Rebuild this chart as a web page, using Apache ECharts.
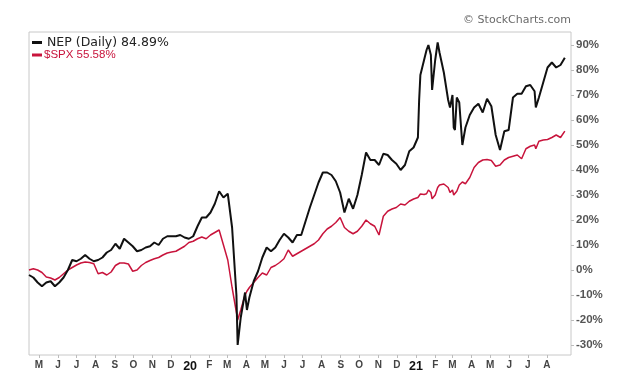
<!DOCTYPE html>
<html><head><meta charset="utf-8">
<script src="https://cdn.jsdelivr.net/npm/echarts@6/dist/echarts.min.js"></script>
<style>html,body{margin:0;padding:0;background:#fff}#c{width:625px;height:390px}</style>
</head><body><div id="c"></div>
<script>
// Dates of the sampled points (weekly, plus a few extra days at sharp turns)
const dates = [
'2019-04-15','2019-04-22','2019-04-29','2019-05-06','2019-05-13','2019-05-20','2019-05-27','2019-06-03','2019-06-10','2019-06-17','2019-06-24',
'2019-07-01','2019-07-08','2019-07-15','2019-07-22','2019-07-29','2019-08-05','2019-08-12','2019-08-19','2019-08-26','2019-09-02','2019-09-09',
'2019-09-16','2019-09-23','2019-09-30','2019-10-07','2019-10-14','2019-10-21','2019-10-28','2019-11-04','2019-11-11','2019-11-18','2019-11-25',
'2019-12-02','2019-12-09','2019-12-16','2019-12-23','2019-12-30',
'2020-01-06','2020-01-13','2020-01-20','2020-01-27','2020-02-03','2020-02-10','2020-02-17','2020-02-24','2020-03-02','2020-03-09','2020-03-16',
'2020-03-18','2020-03-23','2020-03-30','2020-04-02','2020-04-06','2020-04-13','2020-04-20','2020-04-27','2020-05-04','2020-05-11','2020-05-18',
'2020-05-25','2020-06-01','2020-06-08','2020-06-15','2020-06-22','2020-06-29','2020-07-06','2020-07-13','2020-07-20','2020-07-27','2020-08-03',
'2020-08-10','2020-08-17','2020-08-24','2020-08-31','2020-09-07','2020-09-14','2020-09-21','2020-09-28','2020-10-05','2020-10-12','2020-10-19',
'2020-10-26','2020-11-02','2020-11-09','2020-11-16','2020-11-23','2020-11-30','2020-12-07','2020-12-14','2020-12-21','2020-12-28','2020-12-31',
'2021-01-04','2021-01-06','2021-01-08','2021-01-11','2021-01-14','2021-01-18','2021-01-21','2021-01-25','2021-01-27','2021-02-01','2021-02-05',
'2021-02-08','2021-02-15','2021-02-22','2021-02-25','2021-03-01','2021-03-03','2021-03-05','2021-03-08','2021-03-12','2021-03-17','2021-03-22',
'2021-03-29','2021-04-05','2021-04-12','2021-04-19','2021-04-26','2021-05-03','2021-05-10','2021-05-17','2021-05-24','2021-05-31','2021-06-07',
'2021-06-14','2021-06-21','2021-06-28','2021-07-05','2021-07-12','2021-07-14','2021-07-19','2021-07-26','2021-08-02','2021-08-09','2021-08-16',
'2021-08-23','2021-08-30'
];
// NEP (Daily) % change
const nep = [
-2,-3,-5,-6.5,-5,-4.5,-6.5,-5,-3,0,4,
3.5,4.5,6,4.5,3.5,4,5,7,8,10.5,8.5,
12.5,11,9.5,7.5,8,9,9.5,11,10,12.5,13.5,
13.5,13.5,14,13,12.5,
13.5,17.5,21,21,23,26.5,31.5,29,30.5,17,-10,
-30,-19,-9,-16,-11,-4.5,-0.5,5,9,7.5,9,
12,14.5,13,11,14,14,19.5,25,30,35,39,
39,38,35.5,31,23,28.5,24.5,30,38,47,44,
44,42,46.5,46,44,42.5,40,42,47.5,49,49.5,
53,68,78,81,84,88,90,86,72,84,91,
87,79,68,65,70,57,56,69,67,50,57,
62,65,66.5,63,68.5,65.5,54,48,55.5,56,69,
70.5,70.5,73.5,74,71.5,65,69,75,81,83,81,
82,84.89
];
// $SPX % change
const spx = [
0,0.5,0,-1,-2.8,-3.2,-4,-3,-1.5,0,1,
2,2.8,3.2,3,2.5,-1.5,-1,-2,-0.8,1.8,2.8,
2.8,2.4,-0.5,0,1.8,3,3.8,4.5,5,6,6.8,
7.2,7.5,8.5,9.5,11,
11.5,12.5,13.2,12.5,14,15,16,10,4,-7,-17,
-20,-16,-10,-8.5,-7,-5,-3,-1.2,-2,1,1.8,
3,4.5,8,5.5,6.5,7.5,8.5,9.5,10.5,12,14.5,
16.4,17.5,19,21,17,15.5,14.5,15.5,17.5,20,18.5,
17.5,14,21.5,23.5,24.4,25,26.4,26,27.5,28.4,28.5,
29,29.5,30.4,30,30.2,30.5,32,31,28.5,30,33,
34,34.4,33,31,32,30,30.5,31.5,34,35.2,34.5,
37,41,43,44,44.2,43.8,41.5,42,44,45,45.5,
46,44.5,48.5,49.5,50,48.5,51.5,52,52.2,53,54,
53,55.58
];
const monthTicks = [
'2019-05-01','2019-06-01','2019-07-01','2019-08-01','2019-09-01','2019-10-01','2019-11-01','2019-12-01',
'2020-01-01','2020-02-01','2020-03-01','2020-04-01','2020-05-01','2020-06-01','2020-07-01','2020-08-01',
'2020-09-01','2020-10-01','2020-11-01','2020-12-01','2021-01-01','2021-02-01','2021-03-01','2021-04-01',
'2021-05-01','2021-06-01','2021-07-01','2021-08-01'
];
const yTicks = [-30,-20,-10,0,10,20,30,40,50,60,70,80,90];
const nepName = 'NEP (Daily) 84.89%';
const spxName = '$SPX 55.58%';

function ts(s){ return new Date(s.replace(/-/g,'/')).getTime(); }
const tickTs = monthTicks.map(ts);
const letters = 'JFMAMJJASOND';

const chart = echarts.init(document.getElementById('c'), null, {renderer:'canvas'});
chart.setOption({
  animation:false,
  backgroundColor:'#fff',
  grid:{left:29, right:54, top:32, bottom:35, show:true, borderColor:'#c8c8c8', borderWidth:1, backgroundColor:'transparent'},
  graphic:[{type:'text', right:54, top:15, style:{text:'\u00a9 StockCharts.com', fill:'#6a6a6a', font:'11px "DejaVu Sans", sans-serif', textAlign:'right'}}],
  legend:{
    left:27, top:31, orient:'vertical', itemGap:0, itemWidth:10, itemHeight:3, icon:'rect',
    data:[
      {name:nepName, textStyle:{color:'#222', fontFamily:'DejaVu Sans', fontSize:12.5, lineHeight:11, padding:[0,0,0,0]}},
      {name:spxName, textStyle:{color:'#c8143c', fontFamily:'Liberation Sans', fontSize:11.5, lineHeight:11, padding:[0,0,0,-3]}}
    ]
  },
  xAxis:{
    type:'value', min:ts('2019-04-15'), max:ts('2021-09-09'),
    axisLine:{show:false, onZero:false},
    splitLine:{show:false},
    axisTick:{show:true, customValues:tickTs, length:3, lineStyle:{color:'#bbb'}},
    axisLabel:{
      customValues:tickTs, margin:5, color:'#444', fontSize:10, fontWeight:'bold',
      fontFamily:'Liberation Sans, Arial, sans-serif', hideOverlap:false,
      formatter:function(v){
        const d=new Date(v); const m=d.getMonth();
        if(m===0) return '{y|'+String(d.getFullYear()).slice(2)+'}';
        return letters[m];
      },
      rich:{y:{fontSize:12.5, fontWeight:'bold', color:'#111', fontFamily:'Liberation Sans, Arial, sans-serif'}}
    }
  },
  yAxis:{
    type:'value', position:'right', min:-34, max:95.2,
    axisLine:{show:false, onZero:false},
    splitLine:{show:false},
    axisTick:{show:true, customValues:yTicks, length:3, lineStyle:{color:'#bbb'}},
    axisLabel:{customValues:yTicks, formatter:'{value}%', margin:5, color:'#555', fontSize:11.5,
      fontWeight:'bold', fontFamily:'Liberation Sans, Arial, sans-serif'}
  },
  series:[
    {name:spxName, type:'line', showSymbol:false, symbol:'none', data:dates.map((d,i)=>[ts(d),spx[i]]),
     lineStyle:{color:'#c8143c', width:1.5}, itemStyle:{color:'#c8143c'}, z:2},
    {name:nepName, type:'line', showSymbol:false, symbol:'none', data:dates.map((d,i)=>[ts(d),nep[i]]),
     lineStyle:{color:'#111', width:2}, itemStyle:{color:'#111'}, z:3}
  ]
});
</script></body></html>
